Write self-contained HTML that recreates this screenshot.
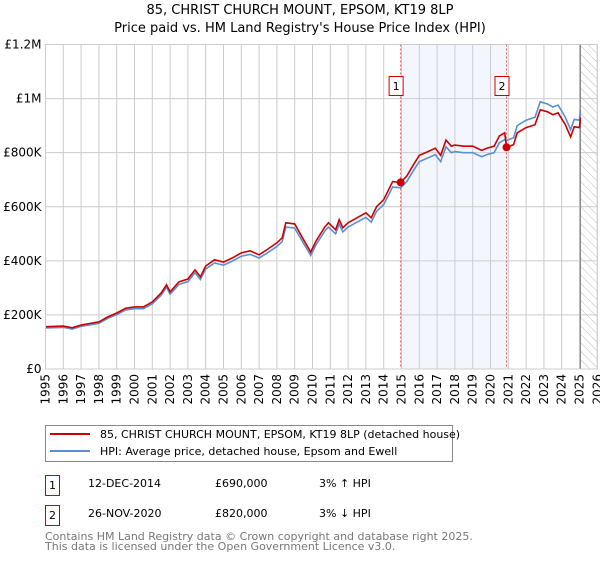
<!DOCTYPE html>
<html><head><meta charset="utf-8"><style>
body{margin:0;background:#fff;font-family:"DejaVu Sans","Liberation Sans",sans-serif;}
svg text{font-family:"DejaVu Sans","Liberation Sans",sans-serif;}
</style></head><body>
<svg id="c" width="600" height="560" viewBox="0 0 600 560">
<defs><pattern id="hatch" patternUnits="userSpaceOnUse" width="6" height="6" patternTransform="rotate(-45)"><line x1="0" y1="0" x2="0" y2="6" stroke="#bbb" stroke-width="1"/></pattern></defs>
<text x="300" y="14" text-anchor="middle" font-size="13">85, CHRIST CHURCH MOUNT, EPSOM, KT19 8LP</text>
<text x="300" y="32" text-anchor="middle" font-size="13">Price paid vs. HM Land Registry's House Price Index (HPI)</text>
<g id="plot"></g>
<g>
<rect x="45.5" y="425.5" width="407" height="36" fill="#fff" stroke="#888"/>
<line x1="50" y1="434" x2="90" y2="434" stroke="#cc0000" stroke-width="2"/>
<text x="100" y="438" font-size="11">85, CHRIST CHURCH MOUNT, EPSOM, KT19 8LP (detached house)</text>
<line x1="50" y1="451" x2="90" y2="451" stroke="#5b8fd4" stroke-width="2"/>
<text x="100" y="455" font-size="11">HPI: Average price, detached house, Epsom and Ewell</text>
</g>
<g font-size="11">
<rect x="45.5" y="475.5" width="14" height="20" fill="#fff" stroke="#cc0000"/>
<text x="52.5" y="489" text-anchor="middle">1</text>
<text x="88" y="487">12-DEC-2014</text><text x="215" y="487">£690,000</text><text x="319" y="487">3% ↑ HPI</text>
<rect x="45.5" y="505.5" width="14" height="20" fill="#fff" stroke="#cc0000"/>
<text x="52.5" y="519" text-anchor="middle">2</text>
<text x="88" y="517">26-NOV-2020</text><text x="215" y="517">£820,000</text><text x="319" y="517">3% ↓ HPI</text>
</g>
<text x="45" y="540" font-size="11" fill="#777">Contains HM Land Registry data © Crown copyright and database right 2025.</text>
<text x="45" y="550" font-size="11" fill="#777">This data is licensed under the Open Government Licence v3.0.</text>
</svg>
<script>
const years=[1995,1996,1997,1998,1999,2000,2001,2002,2003,2004,2005,2006,2007,2008,2009,2010,2011,2012,2013,2014,2015,2016,2017,2018,2019,2020,2021,2022,2023,2024,2025,2026];
const yTicks=[0,200000,400000,600000,800000,1000000,1200000];
const yTickLabels=["£0","£200K","£400K","£600K","£800K","£1M","£1.2M"];
const hpiTimes=[1995.0,1996.0,1996.5,1997.0,1998.0,1998.5,1999.0,1999.5,2000.0,2000.5,2001.0,2001.5,2001.8,2002.0,2002.5,2003.0,2003.4,2003.7,2004.0,2004.5,2005.0,2005.5,2006.0,2006.5,2007.0,2007.5,2008.0,2008.3,2008.5,2009.0,2009.5,2009.9,2010.2,2010.7,2010.9,2011.3,2011.5,2011.7,2012.0,2012.5,2013.0,2013.3,2013.6,2014.0,2014.5,2014.95,2015.3,2015.7,2016.0,2016.5,2016.9,2017.2,2017.5,2017.8,2018.0,2018.5,2019.0,2019.5,2019.8,2020.2,2020.5,2020.8,2020.9,2021.3,2021.5,2022.0,2022.5,2022.8,2023.2,2023.5,2023.8,2024.2,2024.5,2024.7,2025.0,2025.05];
const hpiValues=[152000,154000,148000,158000,169000,187000,201000,218000,223000,223000,241000,273000,302000,277000,313000,323000,356000,331000,370000,392000,384000,399000,417000,424000,410000,431000,453000,471000,525000,521000,464000,420000,460000,511000,525000,500000,536000,507000,525000,543000,561000,543000,583000,608000,673000,670000,693000,737000,767000,781000,793000,767000,822000,800000,804000,800000,800000,785000,793000,800000,837000,848000,845000,855000,900000,920000,931000,988000,980000,969000,976000,931000,885000,923000,920000,958000];
const saleTimes=[2014.95,2020.9];
const salePrices=[690000,820000];
const saleLabels=["1","2"];

const NS="http://www.w3.org/2000/svg";
const X0=45.5,X1=597.3,Y0=369,Y1=44.5;
const xs=t=>X0+(t-1995)/(2026-1995)*(X1-X0);
const ys=v=>Y0-(v/1200000)*(Y0-Y1);
const plot=document.getElementById('plot');
function mk(tag,attrs){const e=document.createElementNS(NS,tag);for(const k in attrs)e.setAttribute(k,attrs[k]);plot.appendChild(e);return e;}
function hpiAt(t){for(let i=0;i<hpiTimes.length-1;i++){if(t>=hpiTimes[i]&&t<=hpiTimes[i+1]){const f=(t-hpiTimes[i])/(hpiTimes[i+1]-hpiTimes[i]);return hpiValues[i]+f*(hpiValues[i+1]-hpiValues[i]);}}return hpiValues[hpiValues.length-1];}

let r=mk('rect',{x:xs(saleTimes[0]),y:Y1,width:xs(saleTimes[1])-xs(saleTimes[0]),height:Y0-Y1,fill:'#eef3fc',opacity:0.7});


r=mk('rect',{x:xs(2025.05),y:Y1,width:X1-xs(2025.05),height:Y0-Y1,fill:'url(#hatch)'});


years.forEach(y=>{
  let l=mk('line',{x1:xs(y),x2:xs(y),y1:Y1,y2:Y0,stroke:'#ccc','stroke-width':1});
  
  
  const tx=xs(y)+4, ty=Y0+5;
  let t=mk('text',{x:tx,y:ty,'text-anchor':'end','font-size':12,transform:'rotate(-90 '+tx+' '+ty+')'});
  t.textContent=y;
  
  
});
yTicks.forEach((v,i)=>{
  let l=mk('line',{x1:X0,x2:X1,y1:ys(v),y2:ys(v),stroke:'#ccc','stroke-width':1});
  
  
  let t=mk('text',{x:X0-4,y:ys(v)+4,'text-anchor':'end','font-size':12});
  t.textContent=yTickLabels[i];
  
  
});
let fl=mk('line',{x1:xs(2025.05),x2:xs(2025.05),y1:Y1,y2:Y0,stroke:'#888','stroke-width':1.2});


saleTimes.forEach(t=>{
  let l=mk('line',{x1:xs(t),x2:xs(t),y1:Y1,y2:Y0,stroke:'#e06060','stroke-width':1,'stroke-dasharray':'2,2'});
  
  
});
let hp=hpiTimes.map((t,i)=>xs(t).toFixed(1)+','+ys(hpiValues[i]).toFixed(1)).join(' ');
let hl=mk('polyline',{points:hp,fill:'none',stroke:'#5b8fd4','stroke-width':1.6});


const f1=salePrices[0]/hpiAt(saleTimes[0]), f2=salePrices[1]/hpiAt(saleTimes[1]);
let rp=hpiTimes.map((t,i)=>{const f=t<saleTimes[1]?f1:f2;return xs(t).toFixed(1)+','+ys(hpiValues[i]*f).toFixed(1);});
let rl=mk('polyline',{points:rp.join(' '),fill:'none',stroke:'#cc0000','stroke-width':1.6});


saleTimes.forEach((t,i)=>{
  let c=mk('circle',{cx:xs(t),cy:ys(salePrices[i]),r:4,fill:'#cc0000'});
  
  
  let b=mk('rect',{x:xs(t)-11.5,y:76.5,width:14,height:19,fill:'#fff',stroke:'#cc0000'});
  
  
  let tx=mk('text',{x:xs(t)-4.5,y:90,'text-anchor':'middle','font-size':11});
  tx.textContent=saleLabels[i];
  
  
});
let fr=mk('rect',{x:X0,y:Y1,width:X1-X0,height:Y0-Y1,fill:'none',stroke:'#ccc'});


</script>
</body></html>
